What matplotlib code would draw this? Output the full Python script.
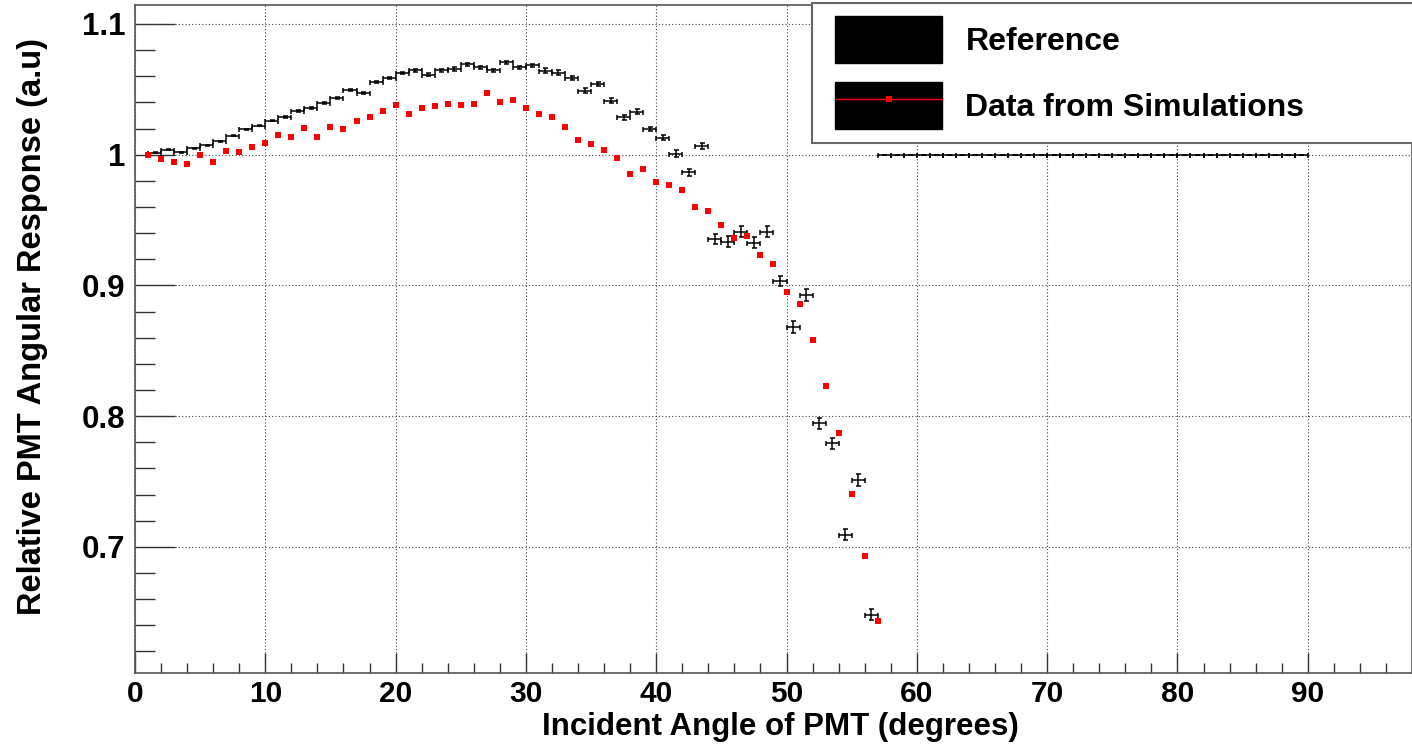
import numpy as np
import matplotlib
matplotlib.use('Agg')
import matplotlib.pyplot as plt
from matplotlib.patches import Patch, Rectangle
from matplotlib.lines import Line2D

plt.rcParams['font.family'] = ['Liberation Sans', 'DejaVu Sans']
plt.rcParams['font.weight'] = 'bold'

# simulated response, one point per degree
sim_angle = list(range(1, 58))
sim_resp = [1.000, 0.9964, 0.9944, 0.9926, 0.9997, 0.9944, 1.0031, 1.0020, 1.0056, 1.0087,
            1.0150, 1.0138, 1.0201, 1.0138, 1.0209, 1.0196, 1.0255, 1.0285, 1.0336, 1.0377,
            1.0313, 1.0359, 1.0370, 1.0390, 1.0382, 1.0385, 1.0474, 1.0403, 1.0415, 1.0357,
            1.0313, 1.0285, 1.0209, 1.0112, 1.0081, 1.0035, 0.9977, 0.9850, 0.9889, 0.9790,
            0.9765, 0.9727, 0.9597, 0.9572, 0.9462, 0.9360, 0.9380, 0.9232, 0.9166, 0.8950,
            0.8860, 0.8582, 0.8232, 0.7872, 0.7408, 0.6931, 0.6434]

# reference histogram, bin centres 1.5 ... 89.5
ref_angle = [a + 0.5 for a in range(1, 90)]
ref_resp = [1.0013, 1.0038, 1.0020, 1.0048, 1.0071, 1.0104, 1.0145, 1.0196, 1.0222, 1.0260,
            1.0290, 1.0331, 1.0357, 1.0398, 1.0436, 1.0492, 1.0474, 1.0553, 1.0589, 1.0622,
            1.0647, 1.0611, 1.0647, 1.0655, 1.0690, 1.0667, 1.0644, 1.0708, 1.0670, 1.0685,
            1.0642, 1.0627, 1.0586, 1.0489, 1.0540, 1.0413, 1.0285, 1.0329, 1.0196, 1.0130,
            1.0007, 0.9865, 1.0066, 0.9355, 0.9335, 0.9411, 0.9327, 0.9411, 0.9034, 0.8681,
            0.8926, 0.7944, 0.7791, 0.7094, 0.7513, 0.6482] + [1.0] * 33
ref_err = [0.0004] * 10 + [0.0008] * 10 + [0.0012] * 10 + [0.0018] * 10 + \
          [0.0025] * 3 + [0.004] * 6 + [0.0045] * 7 + [0.0] * 33

fig = plt.figure(figsize=(14.12, 7.44), dpi=100)
ax = fig.add_axes([0.0956, 0.0954, 0.9044, 0.8979])

ax.errorbar(ref_angle, ref_resp, xerr=0.5, yerr=ref_err, fmt='none',
            ecolor='black', elinewidth=1.1, capsize=1.8, capthick=1.1, zorder=3)
ax.plot(sim_angle, sim_resp, 's', color='red', markersize=5, markeredgewidth=0, zorder=4)

ax.set_xlim(0, 98)
ax.set_ylim(0.6035, 1.1145)
ax.set_xticks(np.arange(0, 91, 10))
ax.set_xticks(np.arange(0, 98, 2), minor=True)
ax.set_yticks([0.7, 0.8, 0.9, 1.0, 1.1])
ax.set_yticklabels(['0.7', '0.8', '0.9', '1', '1.1'])
ax.set_yticks(np.arange(0.62, 1.11, 0.02), minor=True)

ax.tick_params(axis='both', which='both', direction='in', colors='#333333',
               labelcolor='black', width=1)
ax.tick_params(axis='y', which='major', length=29, pad=7, labelsize=22.5)
ax.tick_params(axis='y', which='minor', length=14.5)
ax.tick_params(axis='x', which='major', length=14.5, pad=5, labelsize=21.5)
ax.tick_params(axis='x', which='minor', length=7)
for lab in ax.get_xticklabels() + ax.get_yticklabels():
    lab.set_fontweight('bold')

ax.grid(True, which='major', color='#444444', linestyle=(0, (1, 2)), linewidth=0.8)
ax.set_axisbelow(True)
for sp in ax.spines.values():
    sp.set_color('#555555')
    sp.set_linewidth(1.2)

ax.set_xlabel('Incident Angle of PMT (degrees)', fontsize=22.5, fontweight='bold')
ax.set_ylabel('Relative PMT Angular Response (a.u)', fontsize=23.5, fontweight='bold')
ax.xaxis.label.set_va('baseline')
ax.xaxis.set_label_coords(0.505, -0.0925)
ax.yaxis.set_label_coords(-0.068, 0.518)

# legend
frame = Rectangle((0.530, 0.793), 0.48, 0.21, transform=ax.transAxes, facecolor='white',
                  edgecolor='#666666', linewidth=1.5, zorder=5, clip_on=False)
ax.add_patch(frame)
h_ref = Patch(facecolor='black', edgecolor='black')
h_sim = (Patch(facecolor='black', edgecolor='black'),
         Line2D([], [], color='red', linewidth=1, marker='s', markersize=5, markeredgewidth=0))
leg = ax.legend([h_ref, h_sim], ['Reference', 'Data from Simulations'],
                loc='upper left', bbox_to_anchor=(0.5485, 0.983), frameon=False,
                fontsize=23, handlelength=3.35, handleheight=1.85, labelspacing=0.62,
                handletextpad=0.72, borderpad=0, borderaxespad=0)
leg.set_zorder(6)
for t in leg.get_texts():
    t.set_fontweight('bold')

fig.savefig('out.png', dpi=100)
